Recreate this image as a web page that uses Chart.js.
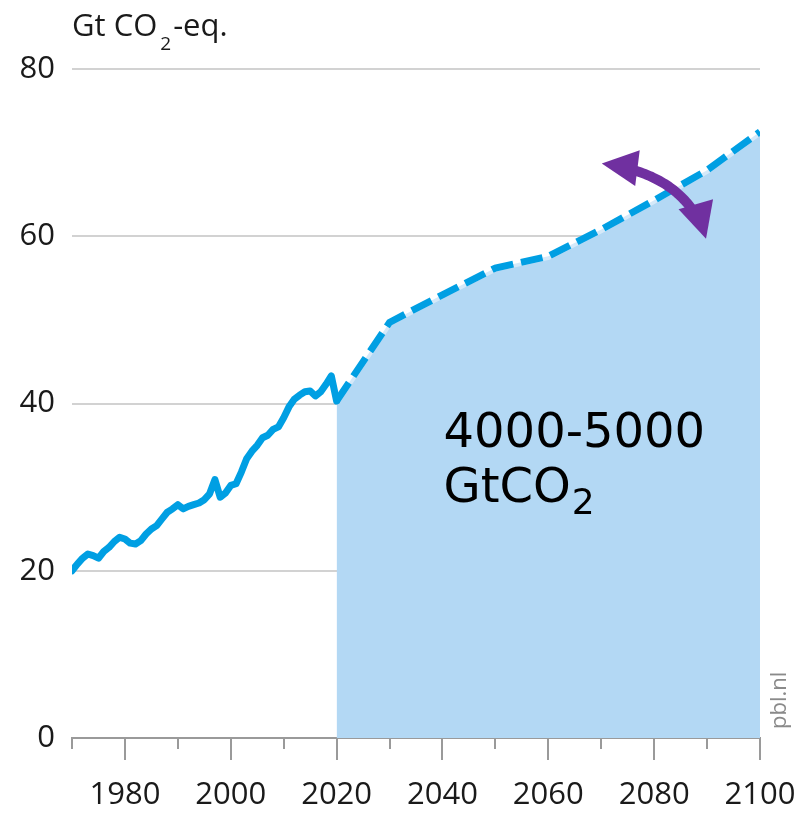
<!DOCTYPE html>
<html>
<head>
<meta charset="utf-8">
<script src="https://cdn.jsdelivr.net/npm/chart.js@4/dist/chart.umd.min.js"></script>
<style>
  html, body { margin: 0; padding: 0; background: #fff; }
  #wrap { width: 803px; height: 818px; }
</style>
</head>
<body>
<div id="wrap"><canvas id="chart" width="803" height="818"></canvas></div>
<script>
// historical emissions, Gt CO2-eq
const histYears = [1970, 1971, 1972, 1973, 1974, 1975, 1976, 1977, 1978, 1979,
  1980, 1981, 1982, 1983, 1984, 1985, 1986, 1987, 1988, 1989,
  1990, 1991, 1992, 1993, 1994, 1995, 1996, 1997, 1998, 1999,
  2000, 2001, 2002, 2003, 2004, 2005, 2006, 2007, 2008, 2009,
  2010, 2011, 2012, 2013, 2014, 2015, 2016, 2017, 2018, 2019, 2020];
const histValues = [20.0, 20.8, 21.5, 22.0, 21.8, 21.5, 22.3, 22.8, 23.5, 24.0,
  23.8, 23.3, 23.2, 23.6, 24.4, 25.0, 25.4, 26.2, 27.0, 27.4,
  27.9, 27.4, 27.7, 27.9, 28.1, 28.5, 29.2, 30.9, 28.8, 29.3,
  30.2, 30.4, 31.8, 33.4, 34.3, 35.0, 35.9, 36.2, 36.9, 37.2,
  38.3, 39.6, 40.5, 41.0, 41.4, 41.5, 40.9, 41.4, 42.3, 43.3, 40.3];

// projection
const projYears = [2020, 2030, 2040, 2050, 2060, 2070, 2080, 2090, 2100];
const projValues = [40.3, 49.7, 53.0, 56.2, 57.6, 60.8, 64.3, 67.9, 72.5];

const yTicks = [0, 20, 40, 60, 80];
const xLabelYears = [1980, 2000, 2020, 2040, 2060, 2080, 2100];

const BLUE = '#009fe3';
const FILL = '#b3d8f4';
const PURPLE = '#7030a0';
const FONT = '"Open Sans", sans-serif';

const toPts = (xs, ys) => xs.map((x, i) => ({ x: x, y: ys[i] }));

const decor = {
  id: 'decor',
  afterDraw(chart) {
    const ctx = chart.ctx;
    const xs = chart.scales.x, ys = chart.scales.y;
    const bottom = chart.chartArea.bottom;
    ctx.save();

    // x tick marks, long every 20 years
    ctx.strokeStyle = '#9a9a9a';
    ctx.lineWidth = 2;
    xs.ticks.forEach(t => {
      const px = Math.round(xs.getPixelForValue(t.value));
      const len = xLabelYears.includes(t.value) ? 22 : 11;
      ctx.beginPath();
      ctx.moveTo(px, bottom);
      ctx.lineTo(px, bottom + len);
      ctx.stroke();
    });

    // unit title
    ctx.fillStyle = '#1a1a1a';
    ctx.textBaseline = 'alphabetic';
    ctx.textAlign = 'left';
    ctx.font = '31px ' + FONT;
    let tx = chart.chartArea.left;
    ctx.fillText('Gt CO', tx, 36);
    tx += ctx.measureText('Gt CO').width + 3;
    ctx.font = '19px ' + FONT;
    ctx.fillText('2', tx, 50);
    tx += ctx.measureText('2').width + 2;
    ctx.font = '31px ' + FONT;
    ctx.fillText('-eq.', tx, 36);

    // budget label
    const lx = xs.getPixelForValue(2040.2);
    const ly = ys.getPixelForValue(34.8);
    ctx.fillStyle = '#000';
    ctx.font = '48px "DejaVu Sans", sans-serif';
    ctx.fillText('4000-5000', lx, ly);
    ctx.fillText('GtCO', lx, ly + 55);
    const w = ctx.measureText('GtCO').width;
    ctx.font = '36px "DejaVu Sans", sans-serif';
    ctx.fillText('2', lx + w + 1, ly + 67);

    // source
    ctx.save();
    ctx.translate(786, 729);
    ctx.rotate(-Math.PI / 2);
    ctx.fillStyle = '#8a8a8a';
    ctx.font = '22px ' + FONT;
    ctx.fillText('pbl.nl', 0, 0);
    ctx.restore();

    // curved double arrow (uncertainty)
    const p0 = { x: xs.getPixelForValue(2070.1), y: ys.getPixelForValue(68.7) };
    const p2 = { x: xs.getPixelForValue(2089.8), y: ys.getPixelForValue(59.7) };
    const c = { x: xs.getPixelForValue(2086.2), y: ys.getPixelForValue(67.4) };
    const q = t => ({
      x: (1 - t) * (1 - t) * p0.x + 2 * t * (1 - t) * c.x + t * t * p2.x,
      y: (1 - t) * (1 - t) * p0.y + 2 * t * (1 - t) * c.y + t * t * p2.y
    });
    const dist = (a, b) => Math.hypot(a.x - b.x, a.y - b.y);
    ctx.strokeStyle = PURPLE;
    ctx.fillStyle = PURPLE;
    ctx.lineWidth = 10;
    ctx.beginPath();
    let started = false;
    for (let i = 0; i <= 60; i++) {
      const p = q(i / 60);
      if (dist(p, p0) < 28 || dist(p, p2) < 28) continue;
      if (!started) { ctx.moveTo(p.x, p.y); started = true; } else ctx.lineTo(p.x, p.y);
    }
    ctx.stroke();
    const head = (tip, toward) => {
      const dx = toward.x - tip.x, dy = toward.y - tip.y;
      const l = Math.hypot(dx, dy);
      const ux = dx / l, uy = dy / l;
      const bx = tip.x + ux * 36, by = tip.y + uy * 36;
      ctx.beginPath();
      ctx.moveTo(tip.x, tip.y);
      ctx.lineTo(bx - uy * 18, by + ux * 18);
      ctx.lineTo(bx + uy * 18, by - ux * 18);
      ctx.closePath();
      ctx.fill();
    };
    head(p0, c);
    head(p2, c);

    ctx.restore();
  }
};

new Chart(document.getElementById('chart'), {
  type: 'line',
  data: {
    datasets: [
      {
        label: 'historical',
        data: toPts(histYears, histValues),
        borderColor: BLUE,
        borderWidth: 7,
        borderJoinStyle: 'round',
        borderCapStyle: 'round',
        pointRadius: 0,
        fill: false,
        tension: 0,
        order: 1
      },
      {
        label: 'projection',
        data: toPts(projYears, projValues),
        borderColor: BLUE,
        borderWidth: 7,
        borderDash: [22, 8],
        borderCapStyle: 'butt',
        pointRadius: 0,
        fill: false,
        tension: 0,
        order: 2
      },
      {
        label: 'budget',
        data: toPts(projYears, projValues),
        borderColor: 'rgba(255,255,255,0.45)',
        borderWidth: 7,
        backgroundColor: FILL,
        pointRadius: 0,
        fill: 'origin',
        tension: 0,
        order: 3
      }
    ]
  },
  options: {
    responsive: false,
    animation: false,
    layout: { padding: { left: 0, right: 43, top: 69, bottom: 0 } },
    plugins: {
      legend: { display: false },
      tooltip: { enabled: false }
    },
    scales: {
      x: {
        type: 'linear',
        min: 1970,
        max: 2100,
        afterFit: s => { s.height = 80; s.paddingLeft = 0; s.paddingRight = 0; },
        grid: { display: true, drawOnChartArea: false, drawTicks: false },
        border: { display: true, color: '#9a9a9a', width: 2 },
        ticks: {
          stepSize: 10,
          autoSkip: false,
          maxRotation: 0,
          padding: 39,
          color: '#1a1a1a',
          font: { family: FONT, size: 31 },
          callback: v => (xLabelYears.includes(v) ? String(v) : '')
        }
      },
      y: {
        min: 0,
        max: 80,
        afterFit: s => { s.width = 72; s.paddingTop = 0; s.paddingBottom = 0; },
        afterBuildTicks: s => { s.ticks = yTicks.map(v => ({ value: v })); },
        grid: {
          drawTicks: false,
          color: ctx => (ctx.tick && ctx.tick.value === 0 ? '#9a9a9a' : '#d2d2d2'),
          lineWidth: 2
        },
        border: { display: false },
        ticks: {
          padding: 17,
          color: '#1a1a1a',
          font: { family: FONT, size: 31 }
        }
      }
    }
  },
  plugins: [decor]
});
</script>
</body>
</html>
